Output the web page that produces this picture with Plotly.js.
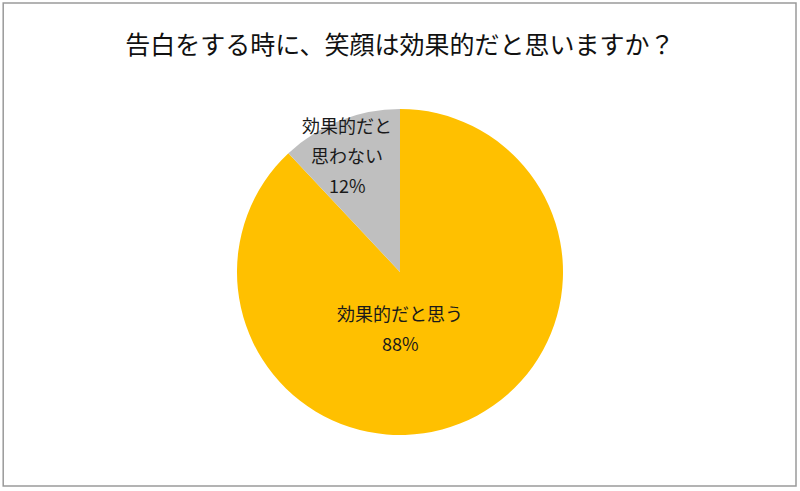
<!DOCTYPE html>
<html>
<head>
<meta charset="utf-8">
<script src="https://cdn.plot.ly/plotly-3.0.1.min.js"></script>
<style>
  html, body { margin: 0; padding: 0; background: #fff; }
  #chart { width: 800px; height: 491px; }
</style>
</head>
<body>
<div id="chart"></div>
<script>
"use strict";
var chartTitle = "告白をする時に、笑顔は効果的だと思いますか？";
var labels = ["効果的だと思う", "効果的だと<br>思わない"];
var values = [88, 12];
var colors = ["#FFC000", "#BFBFBF"];

var font = "'Noto Sans CJK JP', 'Noto Sans', sans-serif";

// where each slice label sits (paper coords, centre of the text block)
var labelPos = [[0.5, 0.332], [0.434, 0.685]];
var lineGap = 30;

var total = values.reduce(function (a, b) { return a + b; }, 0);

var trace = {
    type: "pie",
    labels: labels,
    values: values,
    sort: false,
    direction: "clockwise",
    rotation: 0,
    marker: { colors: colors, line: { width: 0 } },
    textinfo: "none",
    hoverinfo: "label+percent",
    domain: { x: [0.296, 0.704], y: [0.114, 0.778] }
};

// one annotation per text line so the line spacing can match the original
var annotations = [];
labels.forEach(function (lab, i) {
    var lines = lab.split("<br>");
    lines.push(Math.round(values[i] / total * 100) + "%");
    var n = lines.length;
    lines.forEach(function (t, j) {
        annotations.push({
            xref: "paper", yref: "paper",
            x: labelPos[i][0], y: labelPos[i][1],
            xanchor: "center", yanchor: "middle",
            yshift: ((n - 1) / 2 - j) * lineGap,
            text: t, showarrow: false,
            font: { family: font, size: 18, color: "#1a1a1a" }
        });
    });
});

var layout = {
    width: 800,
    height: 491,
    margin: { l: 0, r: 0, t: 0, b: 0 },
    showlegend: false,
    paper_bgcolor: "#fff",
    font: { family: font, color: "#111" },
    title: {
        text: chartTitle,
        font: { family: font, size: 25, color: "#111" },
        x: 0.5, xanchor: "center",
        y: 0.908, yanchor: "middle"
    },
    annotations: annotations,
    shapes: [{
        type: "rect", xref: "paper", yref: "paper",
        x0: 0.004, x1: 0.995, y0: 0.01, y1: 0.994,
        line: { color: "#9a9a9a", width: 1.5 }
    }]
};

Plotly.newPlot("chart", [trace], layout, { displayModeBar: false, staticPlot: true });
</script>
</body>
</html>
